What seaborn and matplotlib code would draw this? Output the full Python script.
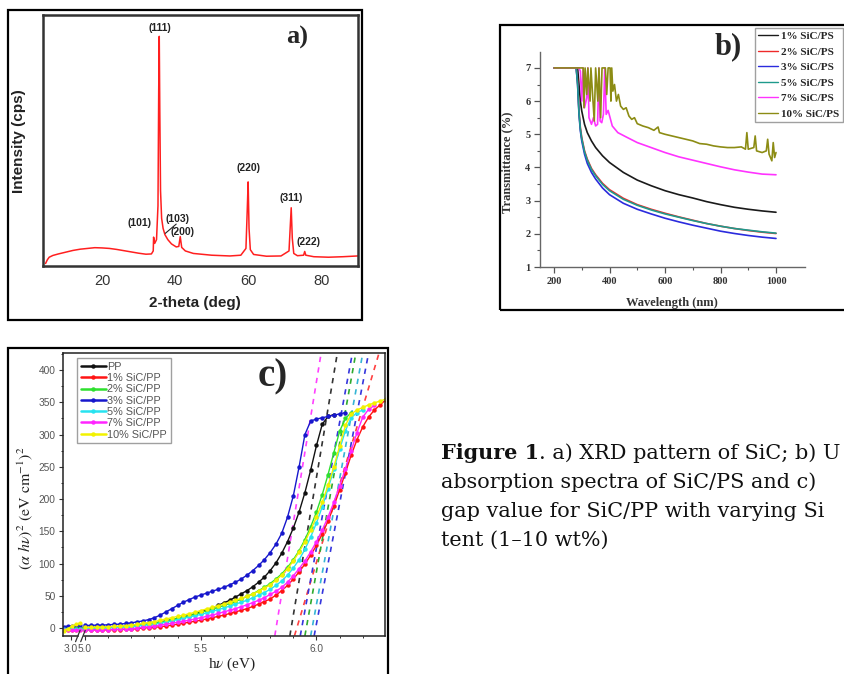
import numpy as np
import pandas as pd
import matplotlib
matplotlib.use("Agg")
import matplotlib.pyplot as plt
from matplotlib.patches import Rectangle
from matplotlib.ticker import FixedLocator, NullFormatter, FixedFormatter
import seaborn as sns

# ---------------- panel a : XRD pattern of SiC ----------------
xrd_2theta = [4.5, 5.0, 5.5, 6.5, 8, 10, 12, 14, 16, 18, 20, 22, 24, 26, 28, 30, 32, 33.5,
              34.0, 34.1, 34.4, 34.9, 35.3, 35.5, 35.65, 35.8, 36.0, 36.3, 36.7, 37.2, 38, 39,
              40.3, 41.0, 41.4, 41.8, 42.8, 45, 50, 55, 58, 59.4, 59.75, 60.0, 60.25, 60.6,
              61.5, 65, 69, 71.2, 71.55, 71.8, 72.1, 72.5, 73.5, 75.2, 75.5, 75.8, 78, 82, 86, 90]
xrd_intensity = [1.0, 2.5, 3.5, 4.2, 4.8, 5.5, 6.2, 6.7, 7.0, 7.3, 7.2, 7.0, 6.6, 6.1, 5.6, 5.1, 4.7, 4.8,
                 6.0, 11.5, 9.0, 10.5, 24, 70, 91.5, 62, 30, 19, 15, 12.5, 10.5, 8.8,
                 7.6, 7.8, 11.7, 7.4, 6.0, 5.0, 4.3, 4.0, 4.3, 7, 22, 33.5, 15, 6.5,
                 4.6, 3.9, 4.0, 6, 16, 23.2, 11, 5, 4.1, 4.3, 5.8, 4.3, 3.7, 3.5, 3.7, 4.0]
xrd_peak_labels = ["(111)", "(101)", "(103)", "(200)", "(220)", "(311)", "(222)"]
xrd_xticks = [20, 40, 60, 80]

# ---------------- panel b : UV-Vis of SiC/PS ----------------
b_series = ["1% SiC/PS", "2% SiC/PS", "3% SiC/PS", "5% SiC/PS", "7% SiC/PS", "10% SiC/PS"]
b_wl_smooth = [200, 280, 285, 290, 295, 300, 310, 320, 335, 350, 375, 400, 450, 500, 550,
               600, 650, 700, 750, 800, 850, 900, 950, 1000]
b_T_1 = [7, 7, 7, 6.5, 6.0, 5.7, 5.3, 5.05, 4.8, 4.6, 4.35, 4.15, 3.85, 3.62, 3.45,
         3.3, 3.18, 3.08, 2.97, 2.88, 2.8, 2.74, 2.69, 2.65]
b_T_2 = [7, 7, 6.6, 5.7, 5.2, 4.9, 4.5, 4.25, 3.97, 3.78, 3.52, 3.33, 3.07, 2.88, 2.74,
         2.62, 2.51, 2.41, 2.31, 2.23, 2.16, 2.1, 2.05, 2.01]
b_T_3 = [7, 7, 6.5, 5.6, 5.1, 4.8, 4.4, 4.12, 3.85, 3.65, 3.38, 3.18, 2.92, 2.74, 2.6,
         2.47, 2.36, 2.26, 2.17, 2.08, 2.01, 1.95, 1.9, 1.86]
b_T_5 = [7, 7, 6.5, 5.65, 5.15, 4.86, 4.47, 4.22, 3.94, 3.75, 3.49, 3.3, 3.04, 2.86, 2.72,
         2.6, 2.5, 2.4, 2.31, 2.23, 2.16, 2.11, 2.06, 2.02]
b_wl_7 = [200, 290, 295, 300, 305, 310, 318, 322, 326, 335, 342, 350, 357, 362, 366, 372, 378,
          383, 388, 395, 402, 410, 430, 460, 500, 550, 600, 650, 700, 750, 800, 850, 900, 950, 1000]
b_T_7 = [7, 7, 6.9, 6.0, 7, 5.8, 6.1, 7, 5.5, 5.3, 5.5, 5.25, 5.3, 7, 5.4, 5.35, 5.6,
         7, 5.6, 5.72, 5.5, 5.25, 5.05, 4.92, 4.75, 4.6, 4.45, 4.32, 4.22, 4.12, 4.02, 3.93, 3.86, 3.8, 3.78]
b_wl_10 = [200, 305, 308, 312, 318, 322, 330, 333, 345, 350, 358, 362, 368, 373, 385, 390, 395,
           402, 405, 408, 412, 418, 425, 432, 440, 450, 460, 470, 480, 490, 500, 520, 540, 560,
           575, 580, 600, 625, 650, 675, 700, 725, 750, 775, 800, 825, 850, 875, 890, 895, 900,
           920, 925, 930, 950, 965, 970, 975, 985, 990, 995, 1000]
b_T_10 = [7, 7, 5.8, 7, 6.2, 7, 6.0, 7, 5.4, 7, 6.0, 7, 5.5, 7, 7, 6.2, 7,
          7, 6.0, 7, 6.3, 6.5, 6.0, 6.2, 5.85, 5.75, 5.8, 5.55, 5.45, 5.5, 5.32, 5.25, 5.2, 5.12,
          5.22, 5.05, 5.0, 4.95, 4.9, 4.85, 4.8, 4.72, 4.7, 4.65, 4.62, 4.6, 4.6, 4.62, 4.55, 5.05, 4.55,
          4.6, 4.95, 4.5, 4.45, 4.5, 4.85, 4.4, 4.2, 4.75, 4.3, 4.45]

# ---------------- panel c : band gap (Tauc) SiC/PP ----------------
c_series = ["PP", "1% SiC/PP", "2% SiC/PP", "3% SiC/PP", "5% SiC/PP", "7% SiC/PP", "10% SiC/PP"]
hv = [5.000, 5.025, 5.050, 5.075, 5.100, 5.125, 5.150, 5.175, 5.200, 5.225, 5.250, 5.275,
      5.300, 5.325, 5.350, 5.375, 5.400, 5.425, 5.450, 5.475, 5.500, 5.525, 5.550, 5.575,
      5.600, 5.625, 5.650, 5.675, 5.700, 5.725, 5.750, 5.775, 5.800, 5.825, 5.850, 5.875,
      5.900, 5.925, 5.950, 5.975, 6.000, 6.025, 6.050, 6.075, 6.100, 6.125, 6.150, 6.175,
      6.200, 6.225, 6.250, 6.275, 6.300]
c_PP = [1, 1, 1, 1, 1.5, 2, 2, 2.5, 3, 4, 5, 6, 7.5, 9, 11, 13, 15, 17, 19.5, 22, 25, 28, 31, 35,
        39, 43, 48, 53, 58, 64, 71, 79, 89, 101, 116, 134, 155, 180, 210, 245, 283, 316, 328, 331]
c_1 = [-3, -3, -3, -3, -3, -2.5, -2.5, -2, -2, -1, 0, 0.5, 1, 2, 3, 4.5, 6, 7.5, 9, 10.5, 12, 14,
       16, 18, 20, 22.5, 25, 27.5, 30, 33.5, 37, 41, 45, 51, 58, 66, 76, 87, 99, 113, 128, 146,
       166, 189, 214, 241, 268, 292, 312, 327, 338, 346, 354]
c_2 = [0, 0, 0.5, 0.5, 1, 1.5, 2, 2.5, 3, 4, 5, 6.5, 8, 9.5, 11, 13, 15, 17, 19, 21.5, 24, 26.5,
       29, 32, 35, 38, 41, 45, 49, 53, 58, 63, 69, 76, 84, 94, 106, 120, 137, 157, 180, 207, 238,
       272, 305, 325, 334]
c_3 = [4, 4, 4.5, 4.5, 5, 5.5, 6, 7, 8, 9.5, 11, 13, 16, 20, 25, 30, 35, 40, 44, 48, 51, 54, 57,
       60, 63, 67, 71, 76, 82, 89, 97, 106, 117, 130, 147, 172, 205, 250, 300, 321, 324, 326, 328,
       330, 332, 334]
c_5 = [-1, -1, -0.5, -0.5, 0, 0.5, 1, 1.5, 2, 3, 4, 5, 6, 7.5, 9, 11, 13, 15, 17, 19, 21, 23.5,
       26, 28.5, 31, 34, 37, 40, 43, 47, 51, 55, 60, 66, 73, 82, 93, 106, 122, 141, 163, 188, 216,
       246, 277, 306, 326, 334, 338]
c_7 = [-3, -3, -3, -2.5, -2.5, -2, -2, -1.5, -1, 0, 1, 2, 3, 4.5, 6, 7.5, 9, 10.5, 12, 14, 16, 18,
       20, 22.5, 25, 27.5, 30, 33, 36, 39.5, 43, 47, 52, 57, 63, 71, 81, 92, 104, 118, 134, 152,
       172, 195, 220, 247, 275, 303, 327, 339, 345]
c_10 = [1, 1, 1.5, 1.5, 2, 2.5, 3, 3.5, 4.5, 5.5, 7, 8.5, 10, 12, 14, 16, 18, 20, 22, 24.5, 27,
        29.5, 32, 34.5, 37, 40, 43, 46, 49, 53, 57, 62, 67, 74, 82, 92, 104, 118, 134, 152, 172,
        195, 221, 250, 282, 314, 332, 338, 342, 346, 349, 352, 355]
# short segment before the axis break (around 3.0 eV)
stub_hv = [2.0, 2.6, 3.2, 3.8, 4.3]
stub_vals = {"PP": [0, 0, 0, 1, 1], "1% SiC/PP": [-3, -3, -3, -3, -3], "2% SiC/PP": [0, 0, 0, 0, 0],
             "3% SiC/PP": [2, 3, 3, 4, 4], "5% SiC/PP": [-1, -1, -1, -1, -1],
             "7% SiC/PP": [-3, -3, -3, -3, -3], "10% SiC/PP": [-4, -1, 3, 6, 8]}
# extrapolated linear fits: x at y=-12 and at y=426
tangent_x_low = [5.82, 5.885, 5.905, 5.93, 5.95, 5.975, 5.99]
tangent_x_high = [6.02, 6.09, 6.27, 6.155, 6.17, 6.20, 6.225]
tangent_colors = ['#ff40ff', '#333333', '#ff4040', '#3535dd', '#2eaa2e', '#35b5d5', '#3535dd']
tangent_y = [-12, 426]
c_yticks = [0, 50, 100, 150, 200, 250, 300, 350, 400]
c_xticks = [3.0, 5.0, 5.5, 6.0]

# caption lines as visible in the reference (cropped at the right edge)
caption_bold = "Figure 1"
caption_lines = [". a) XRD pattern of SiC; b) U",
                 "absorption spectra of SiC/PS and c)",
                 "gap value for SiC/PP with varying Si",
                 "tent (1\u201310 wt%)"]

# ---------------- figure ----------------
sns.set_theme(style="white")
plt.rcParams['font.family'] = ['Liberation Sans', 'DejaVu Sans']
plt.rcParams['mathtext.fontset'] = 'stix'

W, H = 845, 674
fig = plt.figure(figsize=(W / 100, H / 100), dpi=100)
fig.patch.set_facecolor('white')


def frect(x0, y0, x1, y1):
    return [x0 / W, 1 - y1 / H, (x1 - x0) / W, (y1 - y0) / H]


def fxy(x, y):
    return x / W, 1 - y / H


def frame(x0, y0, x1, y1, lw=1.6):
    fig.add_artist(Rectangle((x0 / W, 1 - y1 / H), (x1 - x0) / W, (y1 - y0) / H,
                             transform=fig.transFigure, fill=False, edgecolor='black', lw=lw))


# ===== panel a =====
frame(8, 10, 362, 320)
axa = fig.add_axes(frect(43, 15, 358, 266))
df_a = pd.DataFrame({"two_theta": xrd_2theta, "intensity": xrd_intensity})
sns.lineplot(data=df_a, x="two_theta", y="intensity", ax=axa, color='#ff1f1f', lw=1.1,
             sort=False, estimator=None)
axa.set_xlim(3.8, 90.1)
axa.set_ylim(0, 100)
axa.set_yticks([])
axa.set_xticks(xrd_xticks)
axa.set_xticklabels([str(v) for v in xrd_xticks])
axa.tick_params(axis='x', length=0, pad=6, labelsize=10.5, labelcolor='#333')
axa.set_xlabel("")
axa.set_ylabel("")
for s in axa.spines.values():
    s.set_color('#333')
    s.set_linewidth(1.8)
peak_pos = [(35.7, 94.7), (30.2, 17.3), (40.7, 18.6), (42.1, 13.7), (60.1, 38.9), (71.7, 27.0), (76.5, 9.4)]
for lab, (px, py) in zip(xrd_peak_labels, peak_pos):
    axa.text(px, py, lab, ha='center', va='center', fontsize=7.5, fontweight='bold', color='#222')
axa.plot([37.3, 40.3], [13.0, 16.7], color='#222', lw=0.8)
axa.text(0.806, 0.91, "a)", transform=axa.transAxes, ha='center', va='center',
         fontsize=19, fontweight='bold', family=['Liberation Serif'])
fig.text(*fxy(19, 141), "Intensity (cps)", rotation=90, ha='center', va='center',
         fontsize=11, fontweight='bold', color='#222')
fig.text(*fxy(195, 303), "2-theta (deg)", ha='center', va='center',
         fontsize=11, fontweight='bold', color='#222')

# ===== panel b =====
frame(500, 25, 852, 310)
axb = fig.add_axes(frect(540, 52, 805, 267))
b_colors = ['#1a1a1a', '#ee2a2a', '#2b2bdd', '#1e9a8c', '#ff33ff', '#8c8c14']
rows = []
for name, wl, tv in [(b_series[0], b_wl_smooth, b_T_1), (b_series[1], b_wl_smooth, b_T_2),
                     (b_series[2], b_wl_smooth, b_T_3), (b_series[3], b_wl_smooth, b_T_5),
                     (b_series[4], b_wl_7, b_T_7), (b_series[5], b_wl_10, b_T_10)]:
    for w_, t_ in zip(wl, tv):
        rows.append((name, w_, t_))
df_b = pd.DataFrame(rows, columns=["sample", "wavelength", "T"])
sns.lineplot(data=df_b, x="wavelength", y="T", hue="sample", hue_order=b_series,
             palette=b_colors, ax=axb, lw=1.2, sort=False, estimator=None)
axb.set_xlim(149.5, 1104.5)
axb.set_ylim(1, 7.48)
axb.set_xticks([200, 400, 600, 800, 1000])
axb.xaxis.set_minor_locator(FixedLocator([300, 500, 700, 900]))
axb.set_yticks([1, 2, 3, 4, 5, 6, 7])
axb.yaxis.set_minor_locator(FixedLocator([1.5, 2.5, 3.5, 4.5, 5.5, 6.5]))
axb.tick_params(which='both', direction='out', bottom=True, left=True, colors='#555',
                labelcolor='#333', labelsize=7.5, pad=3)
axb.tick_params(which='major', length=4, width=0.9)
axb.tick_params(which='minor', length=2.2, width=0.8)
for lab in axb.get_xticklabels() + axb.get_yticklabels():
    lab.set_family('Liberation Serif')
    lab.set_fontweight('bold')
axb.spines['top'].set_visible(False)
axb.spines['right'].set_visible(False)
for s in ['left', 'bottom']:
    axb.spines[s].set_color('#666')
    axb.spines[s].set_linewidth(1.0)
axb.set_xlabel("")
axb.set_ylabel("")
hb, lb = axb.get_legend_handles_labels()
for h in hb:
    h.set_linewidth(1.0)
legb = axb.legend(hb, lb, loc='upper left', bbox_to_anchor=fxy(755, 28), bbox_transform=fig.transFigure,
                  prop={'family': 'Liberation Serif', 'weight': 'bold', 'size': 8.0},
                  frameon=True, fancybox=False, edgecolor='#888', handlelength=1.8,
                  handletextpad=0.25, labelspacing=0.52, borderpad=0.3, borderaxespad=0)
legb.get_frame().set_linewidth(1.0)
fig.text(*fxy(728, 47), "b)", ha='center', va='center', fontsize=22, fontweight='bold',
         family=['Liberation Serif'])
fig.text(*fxy(507, 162), "Transmittance (%)", rotation=90, ha='center', va='center',
         fontsize=9, fontweight='bold', family=['Liberation Serif'], color='#333')
fig.text(*fxy(672, 303), "Wavelength (nm)", ha='center', va='center',
         fontsize=9, fontweight='bold', family=['Liberation Serif'], color='#333')

# ===== panel c =====
frame(8, 348, 388, 680)
axc = fig.add_axes(frect(63, 353, 385, 636))
c_colors = ['#111111', '#ff1414', '#2ee02e', '#1717cc', '#27e3f0', '#ff25ff', '#f2f200']
c_vals = [c_PP, c_1, c_2, c_3, c_5, c_7, c_10]
rows = []
for name, vals in zip(c_series, c_vals):
    for x_, v_ in zip(hv, vals):
        rows.append((name, x_, v_))
df_c = pd.DataFrame(rows, columns=["sample", "hv", "val"])
rows = []
for name in c_series:
    for x_, v_ in zip(stub_hv, stub_vals[name]):
        rows.append((name, x_, v_))
df_stub = pd.DataFrame(rows, columns=["sample", "hv", "val"])

K = 0.0309


def fwd(x):
    x = np.asarray(x, dtype=float)
    return np.where(x >= 5.0, x, 5.0 - (5.0 - x) * K)


def inv(u):
    u = np.asarray(u, dtype=float)
    return np.where(u >= 5.0, u, 5.0 - (5.0 - u) / K)


for xl, xh, col in zip(tangent_x_low, tangent_x_high, tangent_colors):
    axc.plot([xl, xh], tangent_y, color=col, lw=1.2, ls=(0, (3.2, 3.2)), zorder=1.5)
sns.lineplot(data=df_c, x="hv", y="val", hue="sample", hue_order=c_series, palette=c_colors,
             ax=axc, lw=1.0, marker='o', markersize=3.2, markeredgewidth=0, sort=False,
             estimator=None, zorder=2)
sns.lineplot(data=df_stub, x="hv", y="val", hue="sample", hue_order=c_series, palette=c_colors,
             ax=axc, lw=1.0, marker='o', markersize=3.0, markeredgewidth=0, sort=False,
             estimator=None, legend=False, zorder=2)
axc.set_xscale('function', functions=(fwd, inv))
axc.set_xlim(1.925, 6.296)
axc.set_ylim(-12.4, 426.4)
axc.xaxis.set_major_locator(FixedLocator(c_xticks))
axc.xaxis.set_major_formatter(FixedFormatter([f"{v:.1f}" for v in c_xticks]))
axc.xaxis.set_minor_locator(FixedLocator([5.1, 5.2, 5.3, 5.4, 5.6, 5.7, 5.8, 5.9, 6.1, 6.2]))
axc.xaxis.set_minor_formatter(NullFormatter())
axc.set_yticks(c_yticks)
axc.yaxis.set_minor_locator(FixedLocator([25, 75, 125, 175, 225, 275, 325, 375, 425]))
axc.tick_params(which='both', direction='out', bottom=True, left=True, colors='#333',
                labelcolor='#555', labelsize=7.3, pad=2.5)
axc.tick_params(which='major', length=3, width=0.8)
axc.tick_params(which='minor', length=1.6, width=0.7)
for s in axc.spines.values():
    s.set_color('#222')
    s.set_linewidth(1.1)
axc.set_xlabel("")
axc.set_ylabel("")
# axis break marks
axc.add_patch(Rectangle((0.049, -0.012), 0.011, 0.024, transform=axc.transAxes, color='white',
                        clip_on=False, zorder=5))
for bx in (0.046, 0.062):
    axc.plot([bx - 0.007, bx + 0.007], [-0.02, 0.02], transform=axc.transAxes, color='#333',
             lw=0.9, clip_on=False, zorder=6)
hc, lc = axc.get_legend_handles_labels()
for h in hc:
    h.set_marker('o')
    h.set_markersize(3.2)
    h.set_linewidth(1.8)
legc = axc.legend(hc, lc, loc='upper left', bbox_to_anchor=fxy(77, 358), bbox_transform=fig.transFigure,
                  fontsize=7.8, frameon=True, fancybox=False, edgecolor='#888', labelcolor='#555',
                  handlelength=2.3, handletextpad=0.15, labelspacing=0.12, borderpad=0.35,
                  borderaxespad=0)
legc.get_frame().set_linewidth(1.0)
fig.text(*fxy(273, 377), "c)", ha='center', va='center', fontsize=28, fontweight='bold',
         family=['Liberation Serif'])
fig.text(*fxy(25, 508), r'$(\alpha\ h\nu)^2\ (\mathrm{eV\ cm}^{-1})^2$', rotation=90,
         ha='center', va='center', fontsize=11.5, color='#222')
fig.text(*fxy(232, 664), r'h$\nu$ (eV)', ha='center', va='center', fontsize=11,
         family=['Liberation Serif'], color='#222')

# ===== caption =====
cap_family = ['DejaVu Serif']
fig.canvas.draw()
rend = fig.canvas.get_renderer()
pb = fig.text(0, 0, caption_bold, fontsize=10, family=cap_family, fontweight='bold')
pr = fig.text(0, 0, caption_lines[0], fontsize=10, family=cap_family)
pw = pb.get_window_extent(rend).width + pr.get_window_extent(rend).width
pb.remove()
pr.remove()
cap_size = 10 * 398 / pw
base_y = [459, 488, 517, 546]
tb = fig.text(*fxy(441, base_y[0]), caption_bold, fontsize=cap_size, family=cap_family,
              fontweight='bold', ha='left', va='baseline', color='#111')
fig.canvas.draw()
bx1 = tb.get_window_extent(rend).x1
fig.text(bx1 / W, 1 - base_y[0] / H, caption_lines[0], fontsize=cap_size,
         family=cap_family, ha='left', va='baseline', color='#111')
for line, yb in zip(caption_lines[1:], base_y[1:]):
    fig.text(*fxy(441, yb), line, fontsize=cap_size, family=cap_family, ha='left',
             va='baseline', color='#111')

fig.savefig("out.png", dpi=100)
